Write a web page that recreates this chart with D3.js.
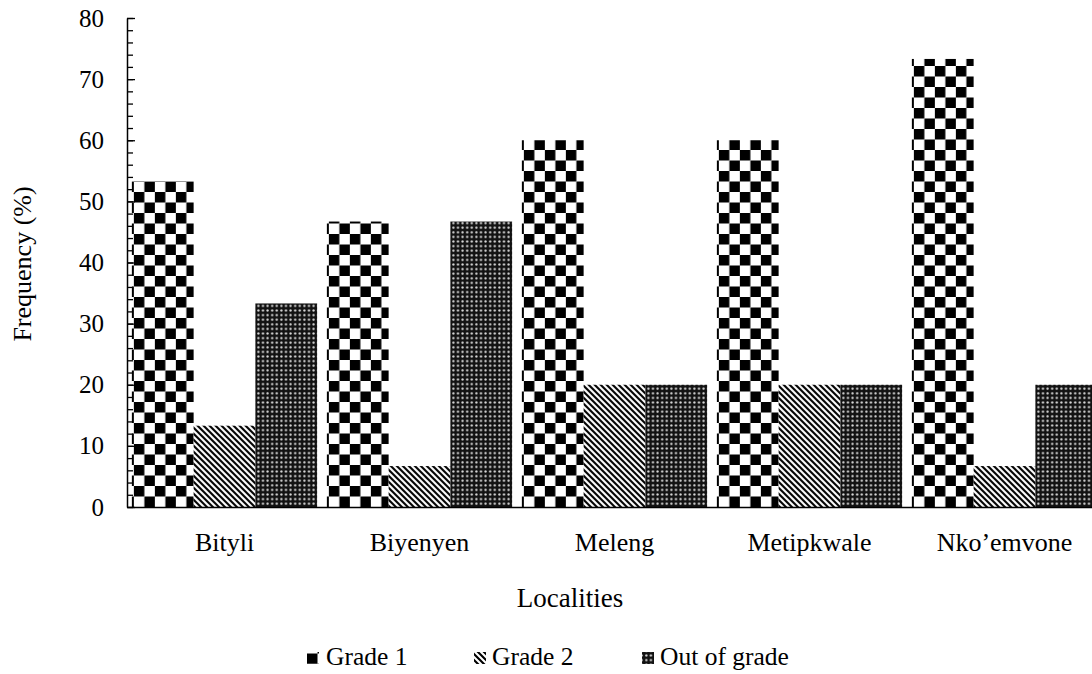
<!DOCTYPE html>
<html>
<head>
<meta charset="utf-8">
<script src="https://cdn.jsdelivr.net/npm/d3@7"></script>
<style>
  html, body { margin: 0; padding: 0; background: #fff; }
  svg { display: block; }
  text { font-family: "Liberation Serif", "Times New Roman", serif; fill: #000; }
</style>
</head>
<body>
<svg id="chart" width="1092" height="674"></svg>
<script>
// ---- data ----
const categories = ["Bityli", "Biyenyen", "Meleng", "Metipkwale", "Nko\u2019emvone"];
const seriesNames = ["Grade 1", "Grade 2", "Out of grade"];
const grade1 = [53.3, 46.7, 60, 60, 73.3];
const grade2 = [13.3, 6.7, 20, 20, 6.7];
const outOfGrade = [33.3, 46.7, 20, 20, 20];
const yTickValues = [0, 10, 20, 30, 40, 50, 60, 70, 80];

(function () {
const seriesValues = [grade1, grade2, outOfGrade];
const patternIds = ["pat-checker", "pat-diag", "pat-dots"];

const svg = d3.select("#chart");
const mLeft = 127, mRight = 1102, mTop = 18, mBottom = 507;

// ---- patterns ----
const defs = svg.append("defs");
function makeChecker(id, px, py) {
  const p = defs.append("pattern").attr("id", id)
    .attr("patternUnits", "userSpaceOnUse").attr("width", 21).attr("height", 21)
    .attr("x", px).attr("y", py);
  p.append("rect").attr("width", 21).attr("height", 21).attr("fill", "#fff");
  p.append("rect").attr("x", 0).attr("y", 0).attr("width", 10.5).attr("height", 10.5).attr("fill", "#000");
  p.append("rect").attr("x", 10.5).attr("y", 10.5).attr("width", 10.5).attr("height", 10.5).attr("fill", "#000");
}
makeChecker("pat-checker", 2, 3);
makeChecker("pat-checker-lg", 307, 653.5);

const diag = defs.append("pattern").attr("id", "pat-diag")
  .attr("patternUnits", "userSpaceOnUse").attr("width", 6).attr("height", 6);
diag.append("rect").attr("width", 6).attr("height", 6).attr("fill", "#fff");
diag.append("path").attr("d", "M-1,-1 L7,7 M-2.5,3.5 L2.5,8.5 M3.5,-2.5 L8.5,2.5")
  .attr("stroke", "#000").attr("stroke-width", 2.1);

const dots = defs.append("pattern").attr("id", "pat-dots")
  .attr("patternUnits", "userSpaceOnUse").attr("width", 4.6).attr("height", 4.6);
dots.append("rect").attr("width", 4.6).attr("height", 4.6).attr("fill", "#121212");
dots.append("circle").attr("cx", 2.3).attr("cy", 2.3).attr("r", 1.15).attr("fill", "#dcdcdc");

// ---- scales ----
const x0 = d3.scaleBand().domain(categories).range([mLeft, mRight])
  .paddingInner(0.05).paddingOuter(0.025);
const x1 = d3.scaleBand().domain(seriesNames).range([0, x0.bandwidth()]).padding(0);
const y = d3.scaleLinear().domain([0, 80]).range([mBottom, mTop]);

// ---- bars ----
const groups = svg.append("g").selectAll("g").data(categories).join("g")
  .attr("transform", d => `translate(${x0(d)},0)`);
groups.selectAll("rect")
  .data((c, i) => seriesNames.map((s, j) => ({ s, j, v: seriesValues[j][i] })))
  .join("rect")
  .attr("x", d => x1(d.s))
  .attr("width", x1.bandwidth())
  .attr("y", d => y(d.v))
  .attr("height", d => y(0) - y(d.v))
  .attr("fill", d => `url(#${patternIds[d.j]})`);

// ---- y axis ----
const minorTicks = d3.range(0, 81, 2);
const yMinor = d3.axisLeft(y).tickValues(minorTicks).tickSizeInner(-6).tickSizeOuter(0).tickFormat("");
const gMinor = svg.append("g").attr("transform", `translate(${mLeft},0)`).call(yMinor);
gMinor.select(".domain").remove();
gMinor.selectAll("line").attr("stroke", "#000").attr("stroke-width", 1.3);

const yAxis = d3.axisLeft(y).tickValues(yTickValues).tickSizeInner(-8).tickSizeOuter(0).tickPadding(23);
const gY = svg.append("g").attr("transform", `translate(${mLeft},0)`).call(yAxis);
gY.select(".domain").attr("stroke", "#000").attr("stroke-width", 1.5);
gY.selectAll("line").attr("stroke", "#000").attr("stroke-width", 1.3);
gY.selectAll("text").attr("font-size", 25);

// ---- x axis ----
const xAxis = d3.axisBottom(x0).tickSize(0).tickSizeOuter(0).tickPadding(26);
const gX = svg.append("g").attr("transform", `translate(0,${mBottom})`).call(xAxis);
gX.select(".domain").attr("stroke", "#000").attr("stroke-width", 1.5);
gX.selectAll("text").attr("font-size", 26);

// ---- titles ----
svg.append("text").attr("x", 570).attr("y", 607).attr("text-anchor", "middle")
  .attr("font-size", 27).text("Localities");
svg.append("text").attr("transform", "translate(31,264) rotate(-90)")
  .attr("text-anchor", "middle").attr("font-size", 26).text("Frequency (%)");

// ---- legend ----
const legendItems = [
  { name: seriesNames[0], pat: "pat-checker-lg", sx: 307, tx: 326 },
  { name: seriesNames[1], pat: patternIds[1], sx: 474, tx: 492 },
  { name: seriesNames[2], pat: patternIds[2], sx: 642, tx: 660 }
];
const lg = svg.append("g");
lg.selectAll("rect").data(legendItems).join("rect")
  .attr("x", d => d.sx).attr("y", 652).attr("width", 12).attr("height", 12)
  .attr("fill", d => `url(#${d.pat})`);
lg.selectAll("text").data(legendItems).join("text")
  .attr("x", d => d.tx).attr("y", 665).attr("font-size", 25.5).text(d => d.name);
})();
</script>
</body>
</html>
